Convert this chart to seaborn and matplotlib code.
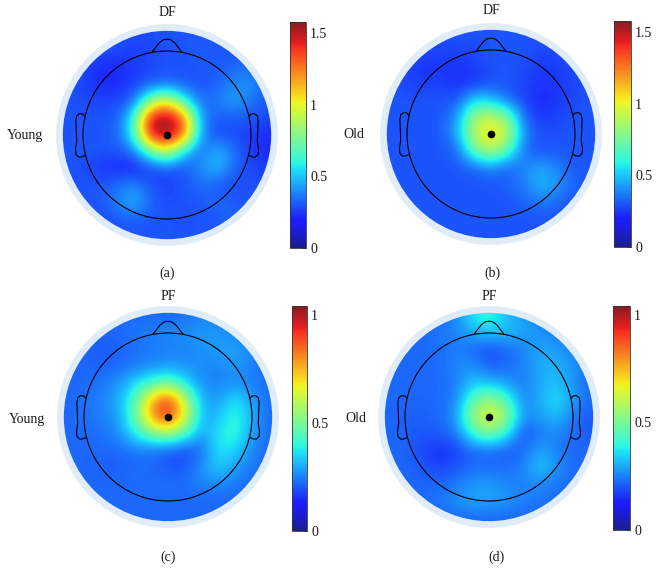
import numpy as np
import matplotlib
matplotlib.use("Agg")
import matplotlib.pyplot as plt
from matplotlib.colors import ListedColormap
from matplotlib.patches import Circle
import seaborn as sns

# scalp maps: 13x13 grid, rows top (front) to bottom (back),
# node spacing 0.2 head radii, centre node = Cz
df_young = [
    [0.30, 0.30, 0.30, 0.30, 0.28, 0.28, 0.30, 0.30, 0.30, 0.30, 0.30, 0.30, 0.30],
    [0.30, 0.30, 0.30, 0.28, 0.26, 0.27, 0.30, 0.30, 0.32, 0.30, 0.30, 0.30, 0.30],
    [0.30, 0.28, 0.22, 0.22, 0.25, 0.28, 0.30, 0.30, 0.30, 0.32, 0.33, 0.35, 0.30],
    [0.30, 0.27, 0.22, 0.22, 0.27, 0.30, 0.33, 0.30, 0.30, 0.32, 0.40, 0.42, 0.32],
    [0.30, 0.28, 0.27, 0.28, 0.32, 0.80, 1.02, 0.60, 0.33, 0.38, 0.45, 0.35, 0.30],
    [0.30, 0.30, 0.30, 0.30, 0.60, 1.50, 1.58, 1.30, 0.40, 0.30, 0.32, 0.30, 0.28],
    [0.30, 0.30, 0.30, 0.32, 0.60, 1.50, 1.58, 1.32, 0.40, 0.28, 0.28, 0.25, 0.22],
    [0.30, 0.30, 0.30, 0.30, 0.35, 0.72, 0.98, 0.52, 0.32, 0.50, 0.35, 0.25, 0.22],
    [0.30, 0.28, 0.25, 0.22, 0.20, 0.26, 0.30, 0.28, 0.42, 0.50, 0.32, 0.27, 0.25],
    [0.30, 0.30, 0.30, 0.35, 0.40, 0.30, 0.26, 0.30, 0.35, 0.30, 0.28, 0.30, 0.30],
    [0.30, 0.30, 0.30, 0.38, 0.50, 0.33, 0.28, 0.30, 0.30, 0.35, 0.30, 0.30, 0.30],
    [0.30, 0.30, 0.28, 0.30, 0.32, 0.30, 0.30, 0.28, 0.30, 0.30, 0.35, 0.30, 0.30],
    [0.30, 0.30, 0.30, 0.30, 0.30, 0.30, 0.30, 0.30, 0.30, 0.30, 0.30, 0.30, 0.30],
]
df_old = [
    [0.30, 0.30, 0.30, 0.30, 0.30, 0.30, 0.30, 0.30, 0.30, 0.30, 0.30, 0.30, 0.30],
    [0.30, 0.30, 0.28, 0.27, 0.27, 0.28, 0.30, 0.30, 0.30, 0.28, 0.28, 0.30, 0.30],
    [0.30, 0.27, 0.24, 0.25, 0.24, 0.26, 0.30, 0.30, 0.28, 0.25, 0.26, 0.28, 0.30],
    [0.30, 0.27, 0.25, 0.27, 0.22, 0.24, 0.28, 0.30, 0.27, 0.24, 0.25, 0.28, 0.30],
    [0.30, 0.30, 0.30, 0.30, 0.30, 0.55, 0.50, 0.34, 0.26, 0.22, 0.25, 0.28, 0.30],
    [0.30, 0.30, 0.30, 0.30, 0.42, 0.88, 0.92, 0.78, 0.30, 0.25, 0.27, 0.30, 0.30],
    [0.30, 0.30, 0.30, 0.30, 0.46, 0.92, 1.10, 0.92, 0.38, 0.28, 0.30, 0.30, 0.30],
    [0.30, 0.30, 0.30, 0.30, 0.33, 0.76, 0.92, 0.68, 0.32, 0.30, 0.30, 0.30, 0.30],
    [0.30, 0.30, 0.30, 0.30, 0.30, 0.32, 0.40, 0.32, 0.40, 0.45, 0.38, 0.30, 0.30],
    [0.30, 0.30, 0.30, 0.30, 0.30, 0.30, 0.30, 0.32, 0.38, 0.50, 0.42, 0.32, 0.30],
    [0.30, 0.30, 0.30, 0.30, 0.30, 0.30, 0.30, 0.30, 0.33, 0.38, 0.33, 0.30, 0.30],
    [0.30, 0.30, 0.30, 0.30, 0.30, 0.30, 0.30, 0.30, 0.30, 0.30, 0.30, 0.30, 0.30],
    [0.30, 0.30, 0.30, 0.30, 0.30, 0.30, 0.30, 0.30, 0.30, 0.30, 0.30, 0.30, 0.30],
]
pf_young = [
    [0.22, 0.22, 0.22, 0.22, 0.22, 0.22, 0.22, 0.23, 0.25, 0.25, 0.22, 0.22, 0.22],
    [0.22, 0.22, 0.22, 0.22, 0.24, 0.25, 0.26, 0.27, 0.28, 0.28, 0.25, 0.22, 0.22],
    [0.22, 0.22, 0.20, 0.21, 0.23, 0.24, 0.25, 0.25, 0.27, 0.28, 0.30, 0.26, 0.22],
    [0.22, 0.22, 0.21, 0.22, 0.24, 0.26, 0.28, 0.27, 0.26, 0.26, 0.28, 0.25, 0.22],
    [0.22, 0.22, 0.24, 0.27, 0.35, 0.42, 0.48, 0.36, 0.26, 0.25, 0.26, 0.25, 0.22],
    [0.22, 0.23, 0.25, 0.30, 0.44, 0.75, 0.93, 0.60, 0.30, 0.28, 0.38, 0.28, 0.22],
    [0.22, 0.23, 0.25, 0.28, 0.46, 0.80, 0.95, 0.66, 0.30, 0.32, 0.42, 0.30, 0.22],
    [0.22, 0.22, 0.23, 0.26, 0.38, 0.50, 0.58, 0.44, 0.28, 0.38, 0.42, 0.28, 0.22],
    [0.22, 0.22, 0.22, 0.22, 0.24, 0.24, 0.20, 0.18, 0.22, 0.38, 0.35, 0.25, 0.22],
    [0.22, 0.22, 0.21, 0.21, 0.22, 0.22, 0.20, 0.20, 0.28, 0.35, 0.28, 0.24, 0.22],
    [0.22, 0.22, 0.22, 0.22, 0.23, 0.23, 0.23, 0.23, 0.25, 0.26, 0.24, 0.22, 0.22],
    [0.22, 0.22, 0.22, 0.22, 0.22, 0.22, 0.22, 0.22, 0.22, 0.22, 0.22, 0.22, 0.22],
    [0.22, 0.22, 0.22, 0.22, 0.22, 0.22, 0.22, 0.22, 0.22, 0.22, 0.22, 0.22, 0.22],
]
pf_old = [
    [0.22, 0.22, 0.22, 0.22, 0.25, 0.38, 0.42, 0.32, 0.28, 0.25, 0.22, 0.22, 0.22],
    [0.22, 0.22, 0.22, 0.24, 0.26, 0.30, 0.35, 0.32, 0.30, 0.27, 0.25, 0.22, 0.22],
    [0.22, 0.22, 0.22, 0.23, 0.24, 0.22, 0.18, 0.22, 0.25, 0.30, 0.28, 0.25, 0.22],
    [0.22, 0.22, 0.22, 0.22, 0.26, 0.28, 0.20, 0.22, 0.25, 0.30, 0.32, 0.27, 0.22],
    [0.22, 0.22, 0.22, 0.22, 0.24, 0.33, 0.32, 0.28, 0.24, 0.30, 0.33, 0.27, 0.22],
    [0.22, 0.22, 0.22, 0.22, 0.25, 0.46, 0.56, 0.45, 0.25, 0.30, 0.38, 0.28, 0.22],
    [0.22, 0.21, 0.21, 0.22, 0.27, 0.56, 0.68, 0.56, 0.27, 0.28, 0.33, 0.24, 0.20],
    [0.22, 0.21, 0.20, 0.21, 0.23, 0.42, 0.52, 0.40, 0.18, 0.24, 0.26, 0.22, 0.20],
    [0.22, 0.22, 0.18, 0.15, 0.17, 0.22, 0.22, 0.20, 0.22, 0.30, 0.25, 0.22, 0.22],
    [0.22, 0.22, 0.20, 0.17, 0.20, 0.22, 0.23, 0.22, 0.25, 0.35, 0.27, 0.22, 0.22],
    [0.22, 0.22, 0.22, 0.22, 0.24, 0.28, 0.28, 0.26, 0.25, 0.26, 0.24, 0.22, 0.22],
    [0.22, 0.22, 0.22, 0.24, 0.27, 0.30, 0.30, 0.28, 0.25, 0.24, 0.22, 0.22, 0.22],
    [0.22, 0.22, 0.22, 0.22, 0.22, 0.22, 0.22, 0.22, 0.22, 0.22, 0.22, 0.22, 0.22],
]

maps = [df_young, df_old, pf_young, pf_old]
conditions = ["DF", "DF", "PF", "PF"]
groups = ["Young", "Old", "Young", "Old"]
letters = ["(a)", "(b)", "(c)", "(d)"]
vmax_list = [1.58, 1.58, 1.04, 1.04]
cbar_ticks = [[0, 0.5, 1, 1.5], [0, 0.5, 1, 1.5], [0, 0.5, 1], [0, 0.5, 1]]
cbar_labels = [["0", "0.5", "1", "1.5"], ["0", "0.5", "1", "1.5"], ["0", "0.5", "1"], ["0", "0.5", "1"]]

sns.set_theme(style="white")
plt.rcParams["font.family"] = ["Liberation Serif", "DejaVu Serif"]

# jet, slightly washed out like the printed figure
jet = matplotlib.colormaps["jet"](np.linspace(0, 1, 256))[:, :3]
cmap = ListedColormap(0.86 * jet + 0.14 * np.array([0.78, 0.80, 0.86]))

W, H = 659, 583
R = 84.0  # head radius in pixels
fig = plt.figure(figsize=(W / 100, H / 100), dpi=100)


def px_rect(x, y, w, h):
    return [x / W, 1 - (y + h) / H, w / W, h / H]


def px_text(x, y, s, size=10):
    fig.text(x / W, 1 - y / H, s, ha="center", va="center", fontsize=size, color="#1a1a1a")


# panel layout (pixels): head centre, colorbar box, title / letter / group label spots
centres = [(167, 135), (491, 134), (168, 417), (489, 417)]
cbar_boxes = [(290, 22, 16, 226), (614, 21, 17, 226), (292, 306, 15, 225), (613, 306, 17, 224)]
title_pos = [(167, 13), (491, 10), (168, 297), (489, 296)]
letter_pos = [(167, 273), (492, 273), (168, 557), (496, 557)]
group_pos = [(25, 135), (354, 134), (27, 420), (356, 419)]

nose_x = [-0.18, -0.09, -0.04, 0.0, 0.04, 0.09, 0.18]
nose_y = [0.985, 1.10, 1.135, 1.14, 1.135, 1.10, 0.985]
ear_x = [0.975, 1.00, 1.04, 1.075, 1.085, 1.08, 1.075, 1.09, 1.085, 1.05, 1.01, 0.97]
ear_y = [0.22, 0.25, 0.255, 0.23, 0.17, 0.05, -0.08, -0.17, -0.23, -0.265, -0.26, -0.24]

lim = 1.35
for k in range(4):
    cx, cy = centres[k]
    S = lim * R
    ax = fig.add_axes(px_rect(cx - S, cy - S, 2 * S, 2 * S))
    ax.set_xlim(-lim, lim)
    ax.set_ylim(-lim, lim)
    ax.set_aspect("equal")
    ax.axis("off")

    ax.add_patch(Circle((0, 0), 1.32, facecolor="#e0ecf8", edgecolor="none", zorder=0))
    grid = np.array(maps[k])
    im = ax.imshow(grid, cmap=cmap, vmin=0, vmax=vmax_list[k], extent=[-1.3, 1.3, -1.3, 1.3],
                   origin="upper", interpolation="bicubic", zorder=1)
    disc = Circle((0, 0), 1.24, transform=ax.transData)
    im.set_clip_path(disc)

    ax.add_patch(Circle((0, 0), 1.0, facecolor="none", edgecolor="black", lw=0.8, zorder=3))
    ax.plot(nose_x, nose_y, color="black", lw=0.8, zorder=3)
    ax.plot(ear_x, ear_y, color="black", lw=0.8, zorder=3)
    ax.plot([-v for v in ear_x], ear_y, color="black", lw=0.8, zorder=3)
    ax.plot([0], [0], "o", color="black", markersize=4.5, zorder=4)

    cax = fig.add_axes(px_rect(*cbar_boxes[k]))
    cb = fig.colorbar(im, cax=cax)
    cb.set_ticks(cbar_ticks[k])
    cb.set_ticklabels(cbar_labels[k])
    cb.outline.set_linewidth(0.6)
    cb.outline.set_edgecolor("#333333")
    cax.tick_params(axis="y", direction="in", length=3, width=0.6, labelsize=10,
                    pad=3, colors="#1a1a1a")

    px_text(*title_pos[k], conditions[k])
    px_text(*letter_pos[k], letters[k])
    px_text(*group_pos[k], groups[k])

fig.savefig("out.png", dpi=100)
